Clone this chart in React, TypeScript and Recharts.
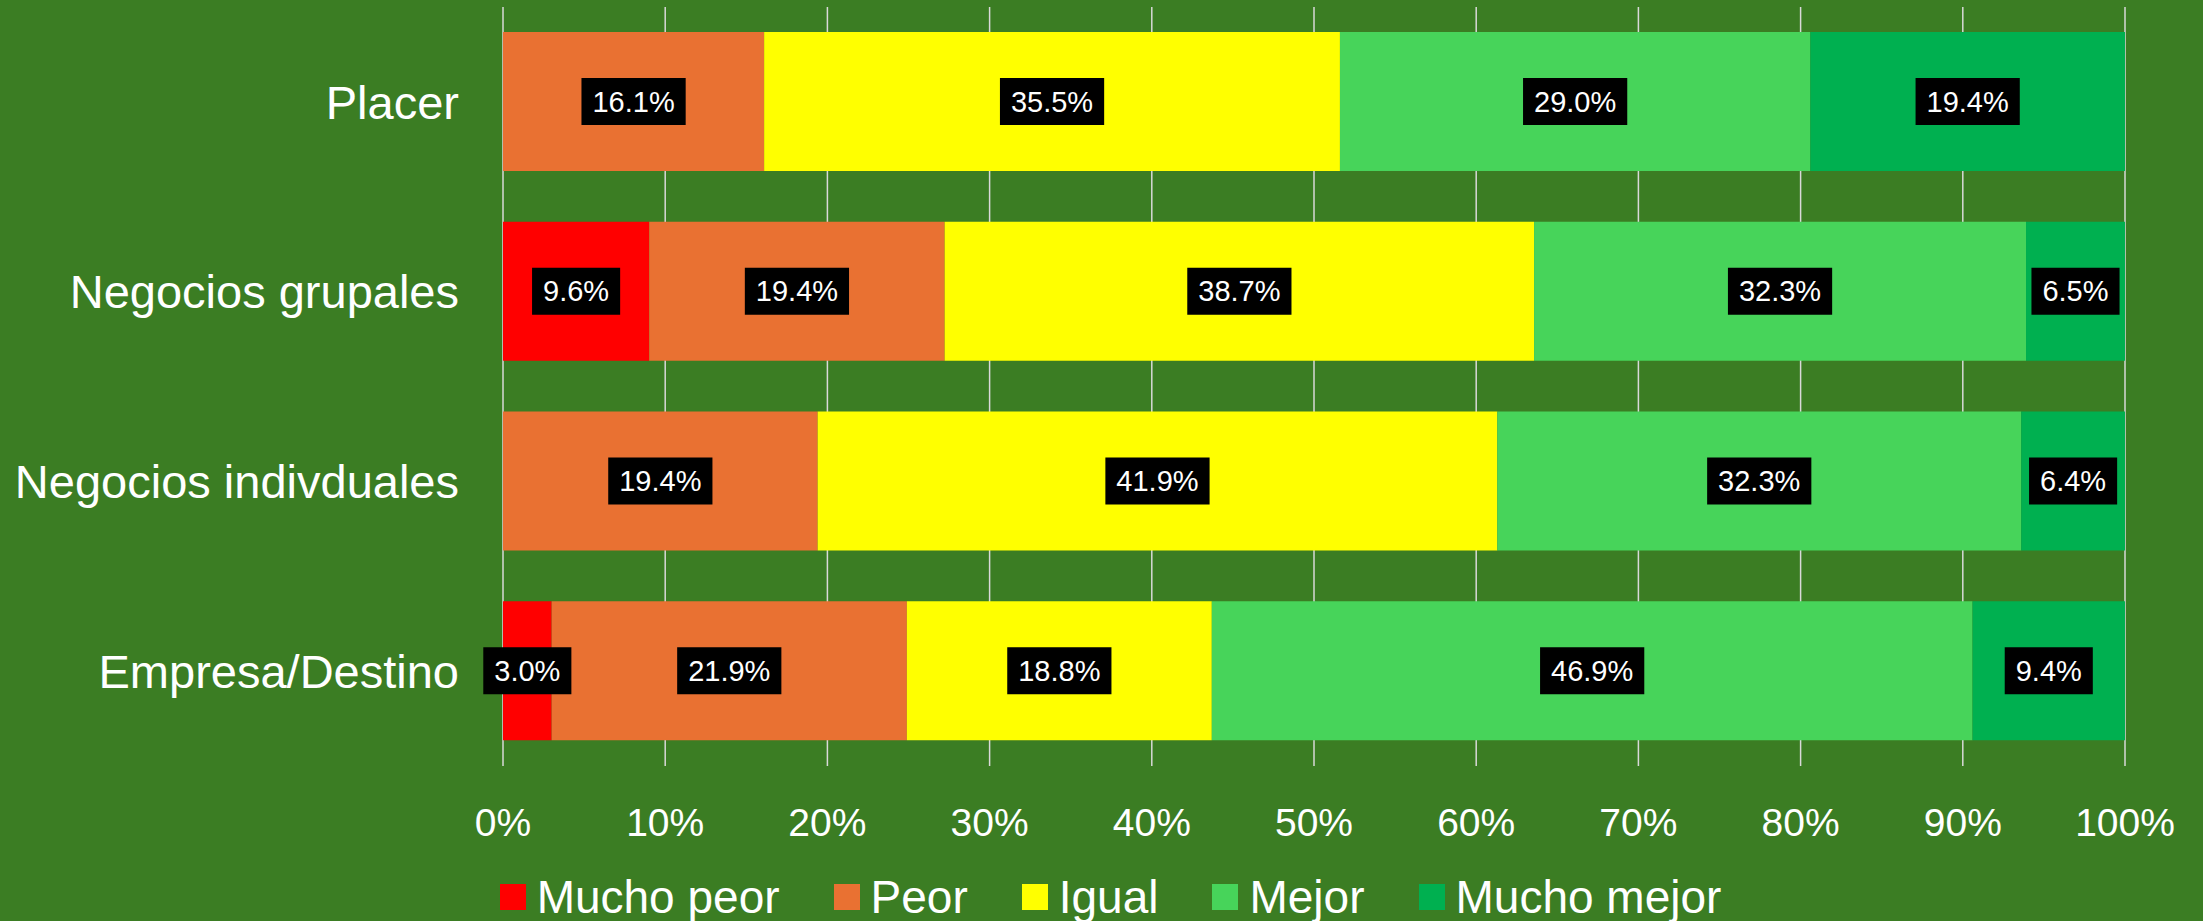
import React from 'react';
import { BarChart, Bar, XAxis, YAxis, CartesianGrid, Legend, LabelList } from 'recharts';

const categories = ['Placer', 'Negocios grupales', 'Negocios indivduales', 'Empresa/Destino'];
const muchoPeor = [0, 9.6, 0, 3.0];
const peor = [16.1, 19.4, 19.4, 21.9];
const igual = [35.5, 38.7, 41.9, 18.8];
const mejor = [29.0, 32.3, 32.3, 46.9];
const muchoMejor = [19.4, 6.5, 6.4, 9.4];
const xTicks = [0, 0.1, 0.2, 0.3, 0.4, 0.5, 0.6, 0.7, 0.8, 0.9, 1];

const seriesNames = ['Mucho peor', 'Peor', 'Igual', 'Mejor', 'Mucho mejor'];
const seriesKeys = ['muchoPeor', 'peor', 'igual', 'mejor', 'muchoMejor'];
const seriesColors = ['#FF0000', '#E97132', '#FFFF00', '#47D45A', '#00B050'];

const data = categories.map((c, i) => ({
  name: c,
  muchoPeor: muchoPeor[i],
  peor: peor[i],
  igual: igual[i],
  mejor: mejor[i],
  muchoMejor: muchoMejor[i],
}));

const BG = '#3B7D23';
const FONT = '"Liberation Sans", Arial, sans-serif';

if (typeof document !== 'undefined') {
  document.body.style.margin = '0';
}

const charW: Record<string, number> = {
  '0': 0.556, '1': 0.556, '2': 0.556, '3': 0.556, '4': 0.556, '5': 0.556,
  '6': 0.556, '7': 0.556, '8': 0.556, '9': 0.556, '.': 0.278, '%': 0.889,
};

const DataLabel = (props: any) => {
  const { x, y, width, height, value } = props;
  if (!value) return null;
  const txt = Number(value).toFixed(1) + '%';
  const fs = 29;
  let tw = 0;
  for (const ch of txt) tw += (charW[ch] ?? 0.556) * fs;
  const bw = tw + 22;
  const bh = 47;
  const cx = Number(x) + Number(width) / 2;
  const cy = Number(y) + Number(height) / 2;
  return (
    <g>
      <rect x={cx - bw / 2} y={cy - bh / 2} width={bw} height={bh} fill="#000000" />
      <text
        x={cx}
        y={cy}
        fill="#FFFFFF"
        fontSize={fs}
        fontFamily={FONT}
        textAnchor="middle"
        dominantBaseline="central"
      >
        {txt}
      </text>
    </g>
  );
};

const LegendContent = () => (
  <div
    style={{
      display: 'flex',
      justifyContent: 'center',
      alignItems: 'center',
      fontFamily: FONT,
      fontSize: 46,
      color: '#FFFFFF',
      width: 2203,
      paddingLeft: 18,
      boxSizing: 'border-box',
    }}
  >
    {seriesNames.map((n, i) => (
      <div key={n} style={{ display: 'flex', alignItems: 'center', marginRight: i < seriesNames.length - 1 ? 54 : 0 }}>
        <div style={{ width: 26, height: 26, background: seriesColors[i], marginRight: 11 }} />
        <span style={{ lineHeight: '50px', whiteSpace: 'nowrap' }}>{n}</span>
      </div>
    ))}
  </div>
);

export default function App() {
  return (
    <div style={{ width: 2203, height: 921, background: BG, position: 'relative', overflow: 'hidden' }}>
      <BarChart
        width={2203}
        height={921}
        data={data}
        layout="vertical"
        stackOffset="expand"
        margin={{ top: 7, right: 78, left: 0, bottom: 95 }}
      >
        <CartesianGrid horizontal={false} vertical={true} stroke="#D9D9D9" strokeWidth={1.5} />
        <XAxis
          type="number"
          domain={[0, 1]}
          ticks={xTicks}
          interval={0}
          tickFormatter={(v: number) => Math.round(v * 100) + '%'}
          axisLine={false}
          tickLine={false}
          tickMargin={36}
          height={60}
          tick={{ fill: '#FFFFFF', fontSize: 39, fontFamily: FONT }}
        />
        <YAxis
          type="category"
          dataKey="name"
          width={503}
          axisLine={false}
          tickLine={false}
          tickMargin={38}
          interval={0}
          tick={{ fill: '#FFFFFF', fontSize: 47, fontFamily: FONT }}
        />
        <Legend
          layout="horizontal"
          verticalAlign="middle"
          align="center"
          content={<LegendContent />}
          wrapperStyle={{ top: 872, left: 0, width: 2203 }}
        />
        {seriesKeys.map((k, i) => (
          <Bar
            key={k}
            dataKey={k}
            name={seriesNames[i]}
            stackId="a"
            fill={seriesColors[i]}
            barSize={139}
            isAnimationActive={false}
          >
            <LabelList dataKey={k} content={<DataLabel />} />
          </Bar>
        ))}
      </BarChart>
    </div>
  );
}
